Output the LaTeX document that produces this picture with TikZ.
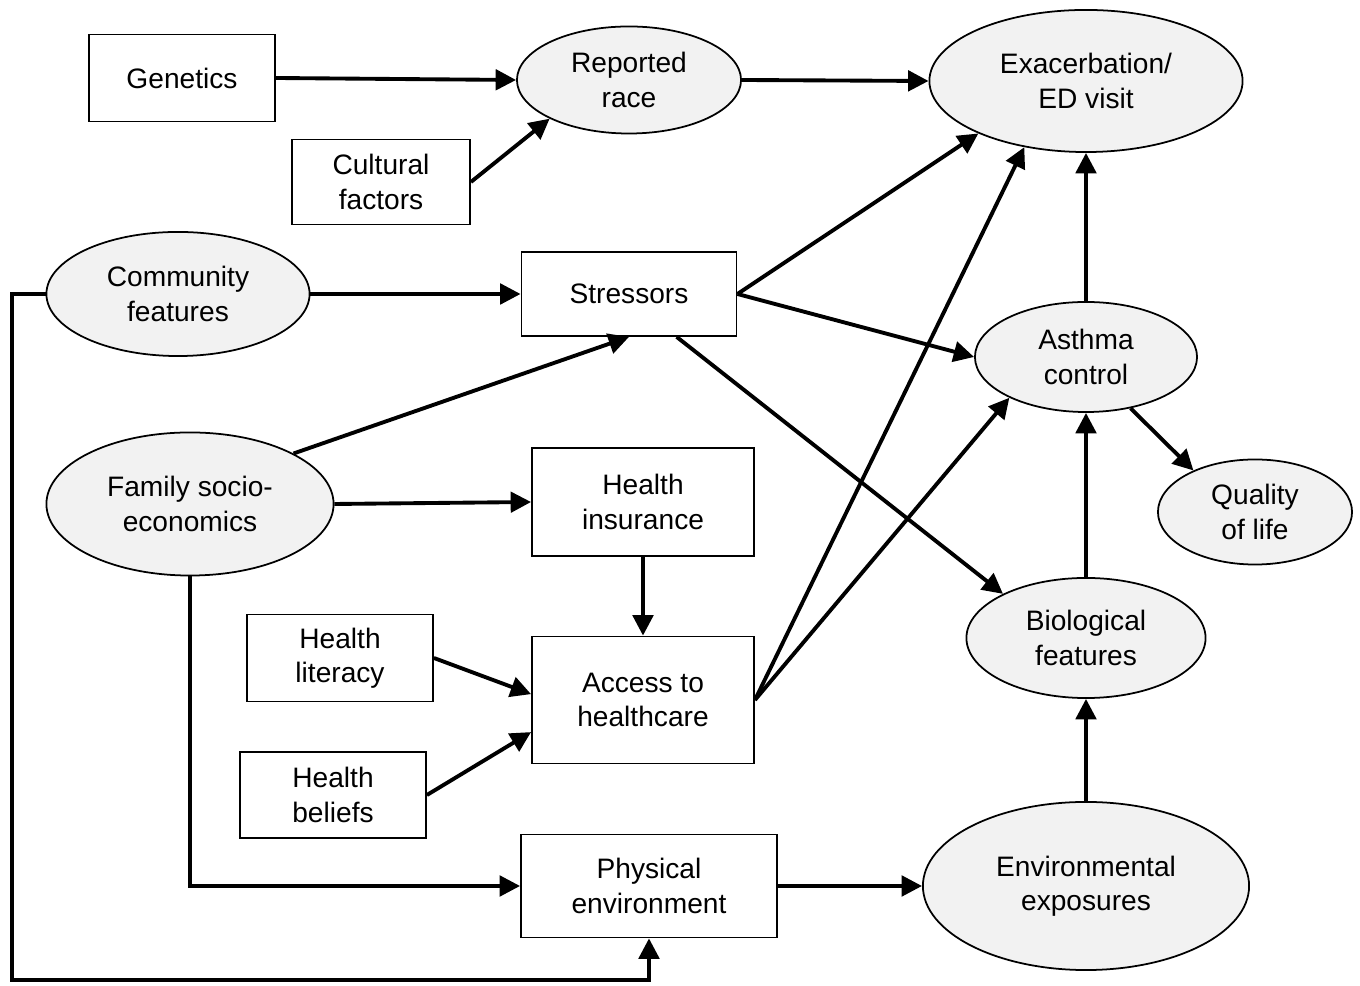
\documentclass[tikz,border=0pt]{standalone}
\usepackage{fontspec}
\setmainfont{Liberation Sans}
\usetikzlibrary{shapes.geometric,arrows.meta}

\begin{document}
\begin{tikzpicture}[x=0.01cm,y=-0.01cm,
		box/.style={draw,line width=0.5pt,inner sep=0pt,align=center,font=\fontsize{8}{9.7}\selectfont},
		oval/.style={box,ellipse,fill=black!5},
		arr/.style={line width=1.1pt,-{Triangle[length=5.8pt,width=5.8pt]}}]
			\useasboundingbox (0,0) rectangle (1360,986);
			% boxes
			\node[box,minimum width=1.86cm,minimum height=0.87cm] (gen) at (182,78) {Genetics};
			\node[box,minimum width=1.78cm,minimum height=0.85cm] (cult) at (381,182) {Cultural\\factors};
			\node[box,minimum width=2.15cm,minimum height=0.84cm] (st) at (629,294) {Stressors};
			\node[box,minimum width=2.22cm,minimum height=1.08cm] (hi) at (643,502) {Health\\insurance};
			\node[box,minimum width=1.86cm,minimum height=0.87cm] (hl) at (340,658) {Health\\literacy};
			\node[box,minimum width=2.22cm,minimum height=1.27cm] (acc) at (643,700) {Access to\\healthcare};
			\node[box,minimum width=1.86cm,minimum height=0.86cm] (hb) at (333,795) {Health\\beliefs};
			\node[box,minimum width=2.56cm,minimum height=1.03cm] (pe) at (649,886) {Physical\\environment};
			% ovals
			\node[oval,minimum width=2.24cm,minimum height=1.07cm] (rr) at (629,80) {Reported\\race};
			\node[oval,minimum width=3.13cm,minimum height=1.42cm] (ex) at (1086,81) {Exacerbation/\\ED visit};
			\node[oval,minimum width=2.63cm,minimum height=1.24cm] (cm) at (178,294) {Community\\features};
			\node[oval,minimum width=2.22cm,minimum height=1.10cm] (ac) at (1086,357) {Asthma\\control};
			\node[oval,minimum width=2.87cm,minimum height=1.43cm] (fs) at (190,504) {Family socio-\\economics};
			\node[oval,minimum width=1.94cm,minimum height=1.05cm] (ql) at (1255,512) {Quality\\of life};
			\node[oval,minimum width=2.39cm,minimum height=1.20cm] (bf) at (1086,638) {Biological\\features};
			\node[oval,minimum width=3.26cm,minimum height=1.68cm] (ee) at (1086,886) {Environmental\\exposures};
			\coordinate (lowcorner) at (12,980);
			% arrows
			\draw[arr] (gen.east) -- (rr.west);
			\draw[arr] (cult.east) -- (rr.206);
			\draw[arr] (rr.east) -- (ex.west);
			\draw[arr] (cm.east) -- (st.west);
			\draw[arr] (cm.west) -| (lowcorner) -| (pe.south);
			\draw[arr] (fs.26) -- (st.south);
			\draw[arr] (fs.east) -- (hi.west);
			\draw[arr] (fs.south) |- (pe.west);
			\draw[arr] (st.east) -- (ex.206);
			\draw[arr] (st.east) -- (ac.west);
			\draw[arr] (st.-42) -- (bf.152);
			\draw[arr] (hi.south) -- (acc.north);
			\draw[arr] (hl.east) -- (acc.177);
			\draw[arr] (hb.east) -- (acc.196);
			\draw[arr] (acc.east) -- (ex.227);
			\draw[arr] (acc.east) -- (ac.208);
			\draw[arr] (ac.north) -- (ex.south);
			\draw[arr] (ac.-49) -- (ql.146);
			\draw[arr] (bf.north) -- (ac.south);
			\draw[arr] (ee.north) -- (bf.south);
			\draw[arr] (pe.east) -- (ee.west);
		\end{tikzpicture}
\end{document}
